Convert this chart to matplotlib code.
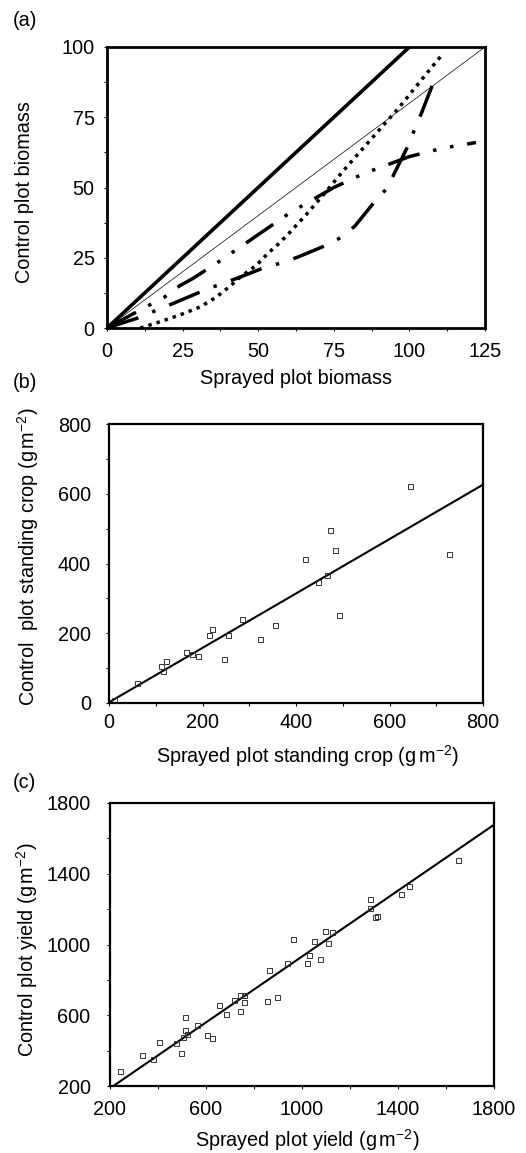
import matplotlib
matplotlib.use("Agg")
import matplotlib.pyplot as plt
from matplotlib.ticker import MultipleLocator

plt.rcParams['font.family'] = ['Liberation Sans', 'DejaVu Sans']
plt.rcParams['mathtext.fontset'] = 'custom'
plt.rcParams['mathtext.rm'] = 'Liberation Sans'
plt.rcParams['mathtext.it'] = 'Liberation Sans:italic'
plt.rcParams['font.size'] = 14.3

# (a) fitted relationships, control vs sprayed biomass
a_solid_x = [0, 100]
a_solid_y = [0, 100]
a_thin_x = [0, 125]
a_thin_y = [0, 100]
a_dotted_x = [11, 17.5, 25, 31, 36, 40.5, 44.5, 49.5, 53.5, 56, 60, 66, 72, 79, 88, 97, 104.5, 111]
a_dotted_y = [0, 2.2, 5, 7.6, 10.9, 14.7, 18.5, 22.4, 26.9, 29.2, 33.5, 40.5, 48, 57, 68, 79, 89, 97.5]
a_dd_x = [0, 12, 19, 24, 28.5, 37, 47, 60.5, 75, 85, 90, 100, 111, 122]
a_dd_y = [0, 7, 11, 15, 17.7, 23.6, 31, 41, 50, 55, 57, 61, 64, 66]
a_dash_x = [0, 10, 17, 22, 33, 43, 53, 58, 63, 74, 78, 82, 89, 93, 95, 100, 102, 104, 108]
a_dash_y = [0, 3.5, 6.6, 8.8, 13.8, 17.7, 21.9, 23.2, 25.2, 30.1, 32.7, 36.3, 45.6, 50.2, 55, 65.8, 71.5, 76.5, 87.5]

# (b) standing crop
b_sprayed = [10, 60, 112, 116, 121, 164, 178, 190, 214, 221, 245, 255, 285, 322, 355,
             419, 448, 466, 473, 483, 491, 644, 727]
b_control = [10, 57, 107, 91, 121, 146, 141, 136, 195, 213, 127, 195, 241, 184, 224,
             413, 346, 366, 497, 439, 252, 622, 428]
b_fit_x = [0, 800]
b_fit_y = [2, 626]

# (c) yield
c_sprayed = [243, 334, 381, 405, 474, 494, 503, 514, 514, 522, 561, 603, 626, 653, 684,
             718, 740, 743, 760, 760, 853, 863, 894, 937, 964, 1021, 1028, 1048, 1076,
             1097, 1108, 1123, 1285, 1285, 1305, 1313, 1412, 1444, 1651]
c_control = [283, 376, 355, 449, 442, 389, 479, 591, 519, 494, 547, 487, 472, 657, 606,
             689, 713, 623, 713, 673, 683, 855, 704, 896, 1030, 896, 943, 1021, 919,
             1077, 1009, 1068, 1257, 1208, 1158, 1162, 1287, 1330, 1475]
c_fit_x = [214, 1800]
c_fit_y = [200, 1677]
c_ticks = [200, 600, 1000, 1400, 1800]

W, H = 526, 1153
fig = plt.figure(figsize=(W / 100, H / 100), dpi=100)


def axes_px(left, right, top, bottom):
    return fig.add_axes([left / W, 1 - bottom / H, (right - left) / W, (bottom - top) / H])


def style(ax, spine_w):
    for s in ax.spines.values():
        s.set_linewidth(spine_w)
    ax.tick_params(which='both', direction='out', width=0.8, length=2)
    ax.tick_params(axis='x', pad=8)
    ax.tick_params(axis='y', pad=7)


# panel (a)
ax1 = axes_px(107, 485, 47, 328)
ax1.plot(a_solid_x, a_solid_y, color='black', lw=2.6, solid_capstyle='butt')
ax1.plot(a_thin_x, a_thin_y, color='black', lw=0.5)
ax1.plot(a_dotted_x, a_dotted_y, color='black', lw=2.5, linestyle=(0, (1, 1.45)),
         dash_capstyle='butt')
ax1.plot(a_dd_x, a_dd_y, color='black', lw=2.5, linestyle=(0, (9.5, 4, 1, 4, 1, 4)),
         dash_capstyle='butt')
ax1.plot(a_dash_x, a_dash_y, color='black', lw=2.5, linestyle=(0, (9.5, 4.3, 1, 4.3)),
         dash_capstyle='butt')
ax1.set_xlim(0, 125)
ax1.set_ylim(0, 100)
ax1.xaxis.set_major_locator(MultipleLocator(25))
ax1.yaxis.set_major_locator(MultipleLocator(25))
ax1.xaxis.set_minor_locator(MultipleLocator(12.5))
ax1.yaxis.set_minor_locator(MultipleLocator(12.5))
style(ax1, 2.0)
ax1.set_xlabel('Sprayed plot biomass')
ax1.set_ylabel('Control plot biomass')
ax1.xaxis.set_label_coords(0.5, -0.146)
ax1.yaxis.set_label_coords(-0.193, 0.484)

# panel (b)
ax2 = axes_px(109, 483, 424, 703)
ax2.plot(b_fit_x, b_fit_y, color='black', lw=1.5)
ax2.plot(b_sprayed, b_control, linestyle='none', marker='s', markersize=3.6,
         markerfacecolor='none', markeredgecolor='#333333', markeredgewidth=0.7)
ax2.set_xlim(0, 800)
ax2.set_ylim(0, 800)
ax2.xaxis.set_major_locator(MultipleLocator(200))
ax2.yaxis.set_major_locator(MultipleLocator(200))
ax2.xaxis.set_minor_locator(MultipleLocator(100))
ax2.yaxis.set_minor_locator(MultipleLocator(100))
style(ax2, 1.6)
ax2.tick_params(axis='x', pad=5)
ax2.tick_params(axis='y', pad=11)
ax2.set_xlabel(r'Sprayed plot standing crop (g$\,$m$^{-2}$)')
ax2.set_ylabel(r'Control  plot standing crop (g$\,$m$^{-2}$)')
ax2.xaxis.set_label_coords(0.53, -0.143)
ax2.yaxis.set_label_coords(-0.181, 0.525)

# panel (c)
ax3 = axes_px(110, 494, 803, 1086)
ax3.plot(c_fit_x, c_fit_y, color='black', lw=1.5)
ax3.plot(c_sprayed, c_control, linestyle='none', marker='s', markersize=3.6,
         markerfacecolor='none', markeredgecolor='#333333', markeredgewidth=0.7)
ax3.set_xlim(200, 1800)
ax3.set_ylim(200, 1800)
ax3.set_xticks(c_ticks)
ax3.set_yticks(c_ticks)
ax3.xaxis.set_minor_locator(MultipleLocator(200))
ax3.yaxis.set_minor_locator(MultipleLocator(200))
style(ax3, 1.6)
ax3.tick_params(axis='y', pad=12)
ax3.set_xlabel(r'Sprayed plot yield (g$\,$m$^{-2}$)')
ax3.set_ylabel(r'Control plot yield (g$\,$m$^{-2}$)')
ax3.xaxis.set_label_coords(0.513, -0.145)
ax3.yaxis.set_label_coords(-0.183, 0.481)

fig.text(13 / W, 1 - 20 / H, '(a)', va='center', ha='left')
fig.text(13 / W, 1 - 383 / H, '(b)', va='center', ha='left')
fig.text(13 / W, 1 - 782 / H, '(c)', va='center', ha='left')

fig.savefig('out.png', dpi=100)
